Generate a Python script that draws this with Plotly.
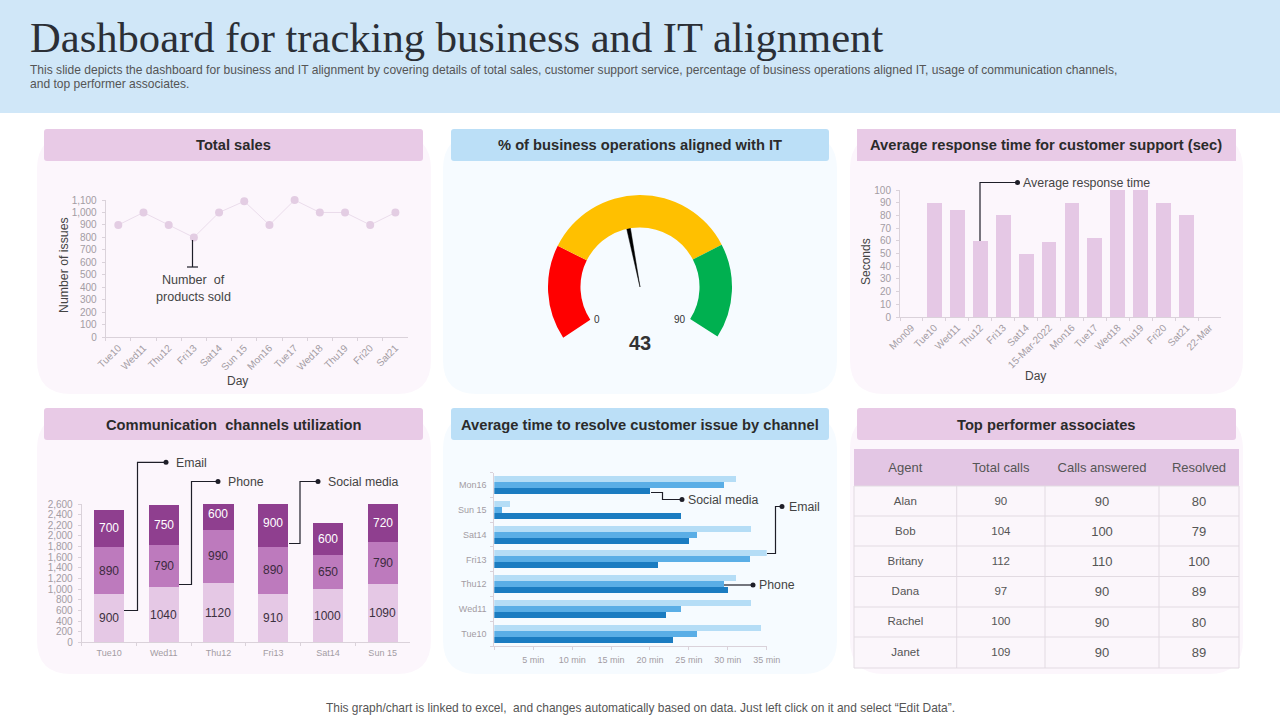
import plotly.graph_objects as go

W, H = 1280, 720
FONT = "Liberation Sans"

# ---------- data ----------
line_days = ["Tue10", "Wed11", "Thu12", "Fri13", "Sat14", "Sun 15", "Mon16", "Tue17", "Wed18", "Thu19", "Fri20", "Sat21"]
products_sold = [900, 1000, 900, 800, 1000, 1090, 900, 1100, 1000, 1000, 900, 1000]

resp_days = ["Mon09", "Tue10", "Wed11", "Thu12", "Fri13", "Sat14", "15-Mar-2022", "Mon16", "Tue17", "Wed18", "Thu19", "Fri20", "Sat21", "22-Mar"]
resp_seconds = [None, 90, 84, 60, 80, 50, 59, 90, 62, 100, 100, 90, 80, None]

comm_days = ["Tue10", "Wed11", "Thu12", "Fri13", "Sat14", "Sun 15"]
comm_email = [900, 1040, 1120, 910, 1000, 1090]
comm_phone = [890, 790, 990, 890, 650, 790]
comm_social = [700, 750, 600, 900, 600, 720]

res_days = ["Tue10", "Wed11", "Thu12", "Fri13", "Sat14", "Sun 15", "Mon16"]
res_email = [34.3, 33, 31, 35, 33, 2, 31]
res_phone = [26, 24, 29.5, 32.9, 26, 1, 29.5]
res_social = [23, 22, 30, 21, 25, 24, 20]
res_ticks = [0, 5, 10, 15, 20, 25, 30, 35]
res_ticktext = ["", "5 min", "10 min", "15 min", "20 min", "25 min", "30 min", "35 min"]

gauge_segments = [60, 126, 60, 114]
gauge_colors = ["#FF0000", "#FFC000", "#00B050", "rgba(0,0,0,0)"]
gauge_value = 43
gauge_max = 90
needle_start_deg = -120
needle_sweep_deg = 228

table_header = ["Agent", "Total calls", "Calls answered", "Resolved"]
agents = ["Alan", "Bob", "Britany", "Dana", "Rachel", "Janet"]
total_calls = [90, 104, 112, 97, 100, 109]
calls_answered = [90, 100, 110, 90, 90, 90]
resolved = [80, 79, 100, 89, 80, 89]

# ---------- helpers ----------
def X(p): return p / W
def Y(p): return 1 - p / H

TICK = "#A39CA3"
AXL = "#DAD2DA"
DARK = "#444444"
INK = "#1E1E28"
CLEAR = "rgba(0,0,0,0)"

def rrect(x0, y0, x1, y1, r, fill):
    a, b, c, d = X(x0), X(x1), Y(y0), Y(y1)
    rx, ry = r / W, r / H
    path = (f"M{a+rx},{c} L{b-rx},{c} Q{b},{c} {b},{c-ry} L{b},{d+ry} Q{b},{d} {b-rx},{d} "
            f"L{a+rx},{d} Q{a},{d} {a},{d+ry} L{a},{c-ry} Q{a},{c} {a+rx},{c} Z")
    return dict(type="path", xref="paper", yref="paper", path=path, fillcolor=fill,
                line=dict(width=0), layer="below")

def rect(x0, y0, x1, y1, fill):
    return dict(type="rect", xref="paper", yref="paper", x0=X(x0), x1=X(x1), y0=Y(y0), y1=Y(y1),
                fillcolor=fill, line=dict(width=0), layer="below")

def poly(points, width=1.2, color=INK, layer="above"):
    path = "M" + " L".join(f"{X(a)},{Y(b)}" for a, b in points)
    return dict(type="path", xref="paper", yref="paper", path=path,
                line=dict(color=color, width=width), layer=layer)

def dot(x, y):
    return dict(type="circle", xref="paper", yref="paper", x0=X(x - 2.5), x1=X(x + 2.5),
                y0=Y(y + 2.5), y1=Y(y - 2.5), fillcolor=INK, line=dict(width=0), layer="above")

def text(x, y, s, size=12, color=DARK, anchor="left", bold=False, family=FONT, angle=0):
    return dict(xref="paper", yref="paper", x=X(x), y=Y(y), text=f"<b>{s}</b>" if bold else s,
                showarrow=False, xanchor=anchor, yanchor="middle", textangle=angle,
                font=dict(size=size, color=color, family=family))

def xaxis(x0, x1, anchor, size=9, **kw):
    d = dict(domain=[X(x0), X(x1)], anchor=anchor, showgrid=False, zeroline=False, showline=True,
             linecolor=AXL, linewidth=1, ticks="outside", ticklen=3, tickcolor=AXL, automargin=False,
             tickfont=dict(size=size, color=TICK, family=FONT))
    d.update(kw)
    return d

def yaxis(y_top, y_bot, anchor, size=10, **kw):
    d = dict(domain=[Y(y_bot), Y(y_top)], anchor=anchor, showgrid=False, zeroline=False, showline=True,
             linecolor=AXL, linewidth=1, ticks="outside", ticklen=3, tickcolor=AXL, automargin=False,
             ticklabelstandoff=3, tickfont=dict(size=size, color=TICK, family=FONT))
    d.update(kw)
    return d

fig = go.Figure()

# ---------- Total sales ----------
fig.add_trace(go.Scatter(x=line_days, y=products_sold, mode="lines+markers", name="Number of products sold",
                         xaxis="x", yaxis="y", cliponaxis=False, line=dict(color="#EADCEB", width=1),
                         marker=dict(color="#E3CDE3", size=8)))

# ---------- Response time ----------
fig.add_trace(go.Bar(x=resp_days, y=resp_seconds, name="Average response time", xaxis="x2", yaxis="y2",
                     marker=dict(color="#E5C8E5", line=dict(width=0))))

# ---------- Communication channels ----------
stack_labels = []
base = [0] * len(comm_days)
for vals, col, txt, nm in [(comm_email, "#E5C8E5", "#3C3040", "Email"),
                           (comm_phone, "#BD7ABD", "#3C2A40", "Phone"),
                           (comm_social, "#8F3F8F", "#FFFFFF", "Social media")]:
    fig.add_trace(go.Bar(x=comm_days, y=vals, name=nm, xaxis="x3", yaxis="y3", width=0.55,
                         marker=dict(color=col, line=dict(width=0))))
    for day, v, b in zip(comm_days, vals, base):
        stack_labels.append(dict(xref="x3", yref="y3", x=day, y=b + v / 2, text=str(v), showarrow=False,
                                 font=dict(size=12, color=txt, family=FONT)))
    base = [b + v for b, v in zip(base, vals)]

# ---------- Resolve time ----------
bar_w = 0.243
for i, (vals, col, nm) in enumerate([(res_social, "#1B7CC1", "Social media"),
                                     (res_phone, "#5AAEE6", "Phone"),
                                     (res_email, "#B5DDF6", "Email")]):
    fig.add_trace(go.Bar(y=res_days, x=vals, name=nm, orientation="h", xaxis="x4", yaxis="y4",
                         offsetgroup=str(i), width=bar_w, offset=-0.365 + bar_w * i,
                         marker=dict(color=col, line=dict(width=0))))

# ---------- Gauge ----------
cx, cy, R = 640, 287, 92
fig.add_trace(go.Pie(values=gauge_segments, marker=dict(colors=gauge_colors, line=dict(width=0)),
                     hole=0.647, sort=False, direction="clockwise", rotation=236.6,
                     textinfo="none", showlegend=False, hoverinfo="skip",
                     domain=dict(x=[X(cx - R), X(cx + R)], y=[Y(cy + R), Y(cy - R)])))
needle = needle_start_deg + gauge_value / gauge_max * needle_sweep_deg
fig.add_trace(go.Scatterpolar(r=[0, R * 0.66, R * 0.66, 0], theta=[needle, needle - 1.8, needle + 1.8, needle],
                              mode="lines", fill="toself", fillcolor="#000000",
                              line=dict(color="#000000", width=0.5), subplot="polar", showlegend=False))

# ---------- Table (text centred over a grid drawn behind it) ----------
fig.add_trace(go.Table(
    domain=dict(x=[X(854), X(1239)], y=[Y(670), Y(454)]),
    columnwidth=[102.7, 88.3, 114, 80],
    header=dict(values=table_header, height=34, fill_color=CLEAR,
                line=dict(color=CLEAR, width=0), align="center",
                font=dict(size=13, color="#555555", family=FONT)),
    cells=dict(values=[agents, total_calls, calls_answered, resolved], height=30.2,
               fill_color=CLEAR, line=dict(color=CLEAR, width=0), align="center",
               font=dict(size=[11.5, 11.5, 13, 13], color="#555555", family=FONT))))

grid_rows = [486, 516, 546, 576.5, 607, 637, 668]
grid_cols = [854, 956.7, 1045, 1159, 1239]
GRID = "#E2DBE2"

# ---------- page furniture ----------
shapes = [
    rect(0, 0, 1280, 113, "#D0E7F8"),
    rrect(37, 135, 431, 394, 34, "#FCF6FC"), rrect(443, 135, 837, 394, 34, "#F6FBFF"), rrect(850, 135, 1243, 394, 34, "#FCF6FC"),
    rrect(37, 415, 431, 674, 34, "#FCF6FC"), rrect(443, 415, 837, 674, 34, "#F6FBFF"), rrect(850, 415, 1243, 674, 34, "#FCF6FC"),
    rrect(44, 129, 423, 161, 3, "#E8CAE6"), rrect(451, 129, 829, 161, 3, "#BBDFF7"), rect(857, 129, 1236, 161, "#E8CAE6"),
    rrect(44, 408, 423, 440, 3, "#E8CAE6"), rrect(451, 408, 829, 440, 3, "#BBDFF7"), rrect(857, 408, 1236, 440, 3, "#E8CAE6"),
    rect(854, 486, 1239, 668, "#FBF6FB"), rect(854, 449, 1239, 486, "#E3C6E4"),
]
shapes += [poly([(854, r), (1239, r)], width=1, color=GRID, layer="below") for r in grid_rows]
shapes += [poly([(c, 486), (c, 668)], width=1, color=GRID, layer="below") for c in grid_cols]
shapes += [
    # leaders
    poly([(192.5, 240), (192.5, 267)]), poly([(187, 267), (198, 267)]),
    poly([(980, 241), (980, 182.5), (1017, 182.5)]), dot(1017.5, 182.5),
    poly([(124, 610.5), (137.5, 610.5), (137.5, 462.3), (166, 462.3)]), dot(166, 462.3),
    poly([(179, 584.5), (191.5, 584.5), (191.5, 481.5), (218, 481.5)]), dot(218, 481.5),
    poly([(289, 543.5), (300, 543.5), (300, 481.5), (318, 481.5)]), dot(318, 481.5),
    poly([(651, 492.5), (662.5, 492.5), (662.5, 499.5), (682, 499.5)]), dot(682, 499.5),
    poly([(767, 553.5), (775.5, 553.5), (775.5, 506.5), (782, 506.5)]), dot(782, 506.5),
    poly([(724, 585), (753, 585)]), dot(753, 585),
]

TITLE = 14.7
LBL = 12.3
annotations = [
    text(28, 37, "Dashboard for tracking business and IT alignment", size=42.6, color="#2B2F36", family="Liberation Serif"),
    text(28, 70, "This slide depicts the dashboard for business and IT alignment by covering details of total sales, customer support service, percentage of business operations aligned IT, usage of communication channels,", size=12.05, color="#555555"),
    text(28, 84, "and top performer associates.", size=12.05, color="#555555"),
    text(233.5, 145, "Total sales", size=TITLE, color="#2B2B2B", anchor="center", bold=True),
    text(640, 145, "% of business operations aligned with IT", size=TITLE, color="#2B2B2B", anchor="center", bold=True),
    text(1046, 145, "Average response time for customer support (sec)", size=TITLE, color="#2B2B2B", anchor="center", bold=True),
    text(233.5, 425, "Communication  channels utilization", size=TITLE, color="#2B2B2B", anchor="center", bold=True),
    text(640, 425, "Average time to resolve customer issue by channel", size=TITLE, color="#2B2B2B", anchor="center", bold=True),
    text(1046, 425, "Top performer associates", size=TITLE, color="#2B2B2B", anchor="center", bold=True),
    text(193, 280, "Number  of", size=12.6, anchor="center"), text(193, 297, "products sold", size=12.6, anchor="center"),
    text(1021, 183, "Average response time", size=12.4),
    text(174, 463, "Email", size=LBL), text(226, 482, "Phone", size=LBL), text(326, 482, "Social media", size=LBL),
    text(686, 500, "Social media", size=LBL), text(787, 507, "Email", size=LBL), text(757, 585, "Phone", size=LBL),
    text(597, 319, "0", size=10, color="#333333", anchor="center"),
    text(680, 319, "90", size=10, color="#333333", anchor="center"),
    text(640, 343, str(gauge_value), size=20, color="#333333", anchor="center", bold=True),
    text(640.5, 708, "This graph/chart is linked to excel,  and changes automatically based on data. Just left click on it and select “Edit Data”.", size=11.95, color="#555555", anchor="center"),
    # axis titles
    text(237, 381, "Day", anchor="center"), text(64, 265, "Number of issues", size=12.3, anchor="center", angle=-90),
    text(1035.5, 376, "Day", anchor="center"), text(866, 262, "Seconds", anchor="center", angle=-90),
] + stack_labels

fig.update_layout(
    width=W, height=H, margin=dict(l=0, r=0, t=0, b=0), paper_bgcolor="#FFFFFF", plot_bgcolor=CLEAR,
    showlegend=False, font=dict(family=FONT),
    barmode="stack", bargap=0.35,
    shapes=shapes, annotations=annotations,
    xaxis=xaxis(105.7, 408, "y", size=10, type="category", range=[-0.5, 11.5], tickson="boundaries", tickangle=-45),
    yaxis=yaxis(200, 337.3, "x", range=[0, 1100], tickvals=list(range(0, 1101, 100)), tickformat=","),
    xaxis2=xaxis(900, 1221, "y2", size=10, type="category", tickson="boundaries", tickangle=-45),
    yaxis2=yaxis(190, 317, "x2", range=[0, 100], tickvals=list(range(0, 101, 10))),
    xaxis3=xaxis(81.7, 410, "y3", type="category", tickson="boundaries", ticklabelstandoff=2),
    yaxis3=yaxis(504, 642.3, "x3", range=[0, 2600], tickvals=list(range(0, 2601, 200)), tickformat=","),
    xaxis4=xaxis(494.3, 766.7, "y4", range=[0, 35], tickvals=res_ticks, ticktext=res_ticktext, ticklabelstandoff=2),
    yaxis4=yaxis(472.7, 646, "x4", size=9, type="category", tickson="boundaries", ticklabelstandoff=5),
    polar=dict(domain=dict(x=[X(cx - R), X(cx + R)], y=[Y(cy + R), Y(cy - R)]), bgcolor=CLEAR,
               radialaxis=dict(visible=False, range=[0, R]),
               angularaxis=dict(visible=False, direction="clockwise", rotation=90)),
)

fig.write_html("out.html", config=dict(displayModeBar=False),
               post_script="document.body.style.margin='0';document.body.style.overflow='hidden';")
